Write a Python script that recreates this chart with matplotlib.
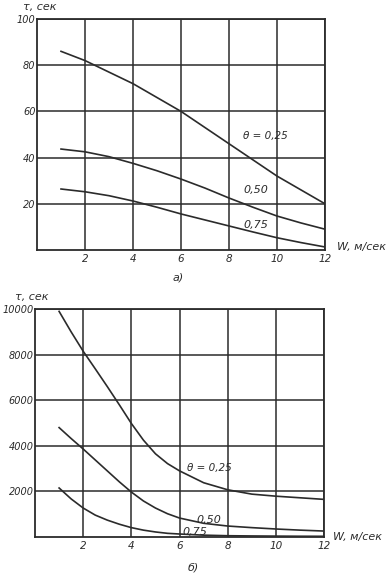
"""
Time tau vs wind speed W for three theta values, two panels (a, b)
"""

import matplotlib.pyplot as plt

# Panel a) - tau, sec (0..100)
w_a = [1, 2, 3, 4, 5, 6, 7, 8, 9, 10, 11, 12]
tau_a_025 = [86, 82, 77, 72, 66, 60, 53, 46, 39, 32, 26, 20]
tau_a_050 = [43.7, 42.5, 40.4, 37.5, 34.3, 30.7, 26.8, 22.5, 18.5, 14.7, 11.7, 9]
tau_a_075 = [26.4, 25.2, 23.5, 21.2, 18.5, 15.6, 13.0, 10.4, 7.8, 5.3, 3.2, 1.3]

# Panel b) - tau, sec (0..10000)
w_b = [1, 1.5, 2, 2.5, 3, 3.5, 4, 4.5, 5, 5.5, 6, 7, 8, 9, 10, 11, 12]
tau_b_025 = [9900, 9000, 8150, 7380, 6600, 5800, 4980, 4250, 3650, 3220, 2900,
             2380, 2070, 1880, 1790, 1720, 1650]
tau_b_050 = [4800, 4320, 3860, 3380, 2900, 2420, 1970, 1580, 1270, 1020, 830,
             600, 480, 410, 350, 300, 260]
tau_b_075 = [2150, 1670, 1270, 960, 740, 560, 410, 300, 220, 160, 130,
             80, 55, 45, 38, 32, 30]

x_ticks = [2, 4, 6, 8, 10, 12]
y_ticks_a = [20, 40, 60, 80, 100]
y_ticks_b = [2000, 4000, 6000, 8000, 10000]

INK = '#2b2b2b'
FONT = dict(family='DejaVu Sans', style='italic', color=INK)


def style_axes(ax, ylim, yticks):
    ax.set_xlim(0, 12)
    ax.set_ylim(*ylim)
    ax.set_xticks(x_ticks)
    ax.set_yticks(yticks)
    ax.set_xticklabels([str(t) for t in x_ticks], fontsize=7.5, **FONT)
    ax.set_yticklabels([str(t) for t in yticks], fontsize=7, **FONT)
    ax.tick_params(axis='x', length=0, pad=3)
    ax.tick_params(axis='y', length=0, pad=1)
    ax.grid(True, color=INK, linewidth=1.1)
    for s in ax.spines.values():
        s.set_color(INK)
        s.set_linewidth(1.3)


fig = plt.figure(figsize=(3.86, 5.74), dpi=100)

# --- a) ---
ax1 = fig.add_axes([0.0959, 0.5645, 0.746, 0.4024])
style_axes(ax1, (0, 100), y_ticks_a)
for y in (tau_a_025, tau_a_050, tau_a_075):
    ax1.plot(w_a, y, color=INK, linewidth=1.2)
ax1.text(8.6, 48, 'θ = 0,25', fontsize=7.5, **FONT)
ax1.text(8.6, 24.5, '0,50', fontsize=8, **FONT)
ax1.text(8.6, 9.5, '0,75', fontsize=8, **FONT)
fig.text(0.060, 0.988, 'τ, сек', fontsize=8, va='center', **FONT)
fig.text(0.872, 0.570, 'W, м/сек', fontsize=8, va='center', **FONT)
fig.text(0.448, 0.517, 'а)', fontsize=8, va='center', **FONT)

# --- б) ---
ax2 = fig.add_axes([0.0907, 0.0645, 0.749, 0.397])
style_axes(ax2, (0, 10000), y_ticks_b)
for y in (tau_b_025, tau_b_050, tau_b_075):
    ax2.plot(w_b, y, color=INK, linewidth=1.2)
ax2.text(6.3, 2900, 'θ = 0,25', fontsize=7.5, **FONT)
ax2.text(6.7, 600, '0,50', fontsize=8, **FONT)
ax2.text(6.1, 80, '0,75', fontsize=8, **FONT)
fig.text(0.040, 0.483, 'τ, сек', fontsize=8, va='center', **FONT)
fig.text(0.862, 0.065, 'W, м/сек', fontsize=8, va='center', **FONT)
fig.text(0.485, 0.012, 'б)', fontsize=8, va='center', **FONT)

plt.savefig('out.png', dpi=100)
plt.close()
